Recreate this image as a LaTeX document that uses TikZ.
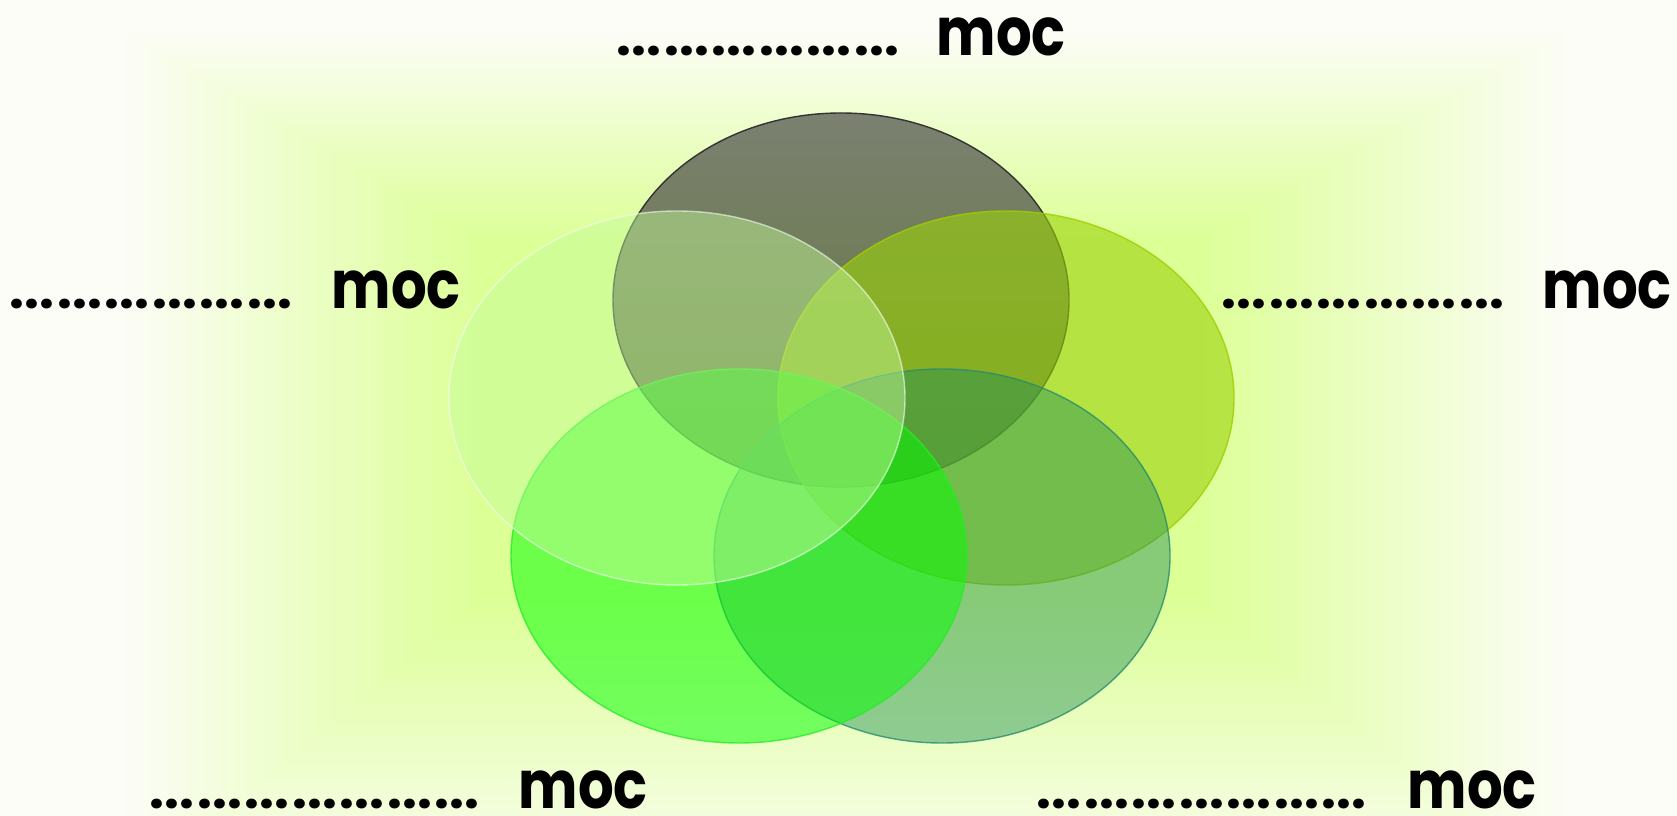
\documentclass[tikz,border=0pt]{standalone}
\usepackage{fontspec}
\newfontfamily\labelfont{Poppins}

% background glow colours
\definecolor{bgOut}{RGB}{252,253,247}
\definecolor{bgIn}{RGB}{220,255,150}
% ellipse colours
\definecolor{topTop}{RGB}{123,128,112}
\definecolor{topBot}{RGB}{96,121,56}
\definecolor{rightFill}{RGB}{155,210,10}
\definecolor{brFill}{RGB}{35,143,87}
\definecolor{blFill}{RGB}{0,255,0}
\definecolor{leftFill}{RGB}{197,252,154}

\newcommand\dotgrp{\makebox[1.5mm][c]{.}\makebox[1.5mm][c]{.}\makebox[1.5mm][c]{.}}
\newcommand\dotline[1]{\dotgrp\foreach\k in {2,...,#1}{\hspace{0.25mm}\dotgrp}}
\newcommand\mocword{\scalebox{0.84}[1]{moc}}

\tikzset{
  dotrow/.style={anchor=base west, inner sep=0pt,
    font=\labelfont\bfseries\fontsize{15}{15}\selectfont},
  word/.style={anchor=base west, inner sep=0pt,
    font=\labelfont\bfseries\fontsize{19}{19}\selectfont},
  ring/.style={line width=0.4pt},
}

\begin{document}
\begin{tikzpicture}[x=0.01cm,y=-0.01cm]
\useasboundingbox (0,0) rectangle (1677,816);
\clip (0,0) rectangle (1677,816);

% rectangular glow behind the diagram
\fill[bgOut] (0,0) rectangle (1677,816);
\foreach \i in {1,...,60}{
  \pgfmathsetmacro\t{\i/60}
  \pgfmathsetmacro\pc{100*\t}
  \pgfmathsetmacro\xa{120+\t*(480-120)}
  \pgfmathsetmacro\ya{30+\t*(240-30)}
  \pgfmathsetmacro\xb{1570-\t*(1570-1200)}
  \pgfmathsetmacro\yb{900-\t*(900-600)}
  \fill[bgIn!\pc!bgOut] (\xa,\ya) rectangle (\xb,\yb);
}

% five overlapping ellipses
\shade[top color=topTop, bottom color=topBot] (841,300) ellipse [x radius=228, y radius=187];
\draw[ring, draw=black!80] (841,300) ellipse [x radius=228, y radius=187];

\fill[rightFill, fill opacity=0.6] (1006,398) ellipse [x radius=228, y radius=187];
\draw[ring, draw={rgb,255:red,160;green,205;blue,0}, draw opacity=0.8] (1006,398) ellipse [x radius=228, y radius=187];

\fill[brFill, fill opacity=0.46] (942,556) ellipse [x radius=228, y radius=187];
\draw[ring, draw={rgb,255:red,40;green,140;blue,110}, draw opacity=0.8] (942,556) ellipse [x radius=228, y radius=187];

\fill[blFill, fill opacity=0.51] (739,556) ellipse [x radius=228, y radius=187];
\draw[ring, draw={rgb,255:red,40;green,235;blue,40}, draw opacity=0.8] (739,556) ellipse [x radius=228, y radius=187];

\fill[leftFill, fill opacity=0.46] (677,398) ellipse [x radius=228, y radius=187];
\draw[ring, draw=white!95!green, draw opacity=0.6] (677,398) ellipse [x radius=228, y radius=187];

% labels
\node[dotrow] (dTop) at (616,56) {\dotline{6}};
\node[word]   (wTop) at (936,56) {\mocword};

\node[dotrow] (dLeft) at (9,309) {\dotline{6}};
\node[word]   (wLeft) at (331,309) {\mocword};

\node[dotrow] (dRight) at (1221,309) {\dotline{6}};
\node[word]   (wRight) at (1542,309) {\mocword};

\node[dotrow] (dBL) at (149,808) {\dotline{7}};
\node[word]   (wBL) at (518,808) {\mocword};

\node[dotrow] (dBR) at (1036,808) {\dotline{7}};
\node[word]   (wBR) at (1407,808) {\mocword};
\end{tikzpicture}
\end{document}
